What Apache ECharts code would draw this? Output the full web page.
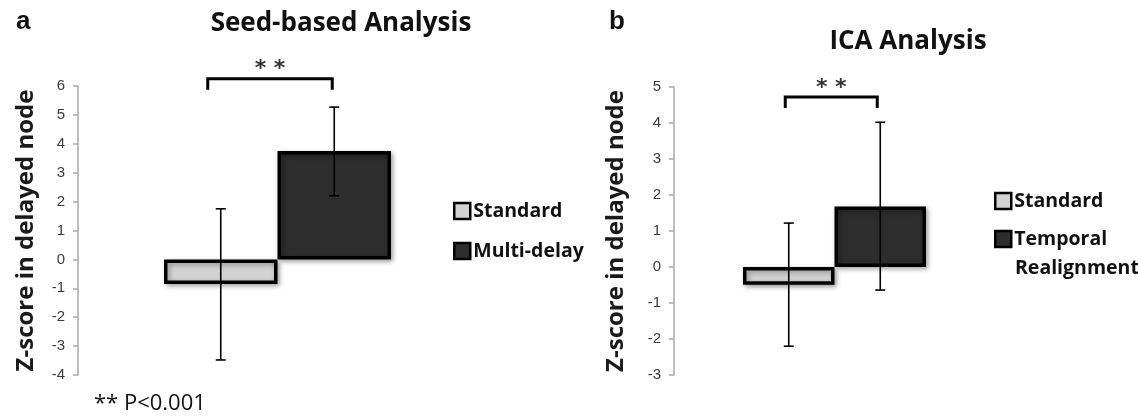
<!DOCTYPE html>
<html>
<head>
<meta charset="utf-8">
<script src="https://cdn.jsdelivr.net/npm/echarts@6/dist/echarts.min.js"></script>
<style>
html,body{margin:0;padding:0;background:#fff;}
#chart{width:1138px;height:416px;}
</style>
</head>
<body>
<div id="chart"></div>
<script>
// ---------- Data ----------
const categoriesA = ['Standard', 'Multi-delay'];
const meansA = [-0.85, 3.75];
const errLowA = [-3.48, 2.2];
const errHighA = [1.75, 5.27];
const yMinA = -4, yMaxA = 6;
const sigLevelA = 6.25;

const categoriesB = ['Standard', 'Temporal Realignment'];
const meansB = [-0.49, 1.68];
const errLowB = [-2.2, -0.64];
const errHighB = [1.22, 4.02];
const yMinB = -3, yMaxB = 5;
const sigLevelB = 4.72;

const sigLabel = '**';
const yAxisName = 'Z-score in delayed node';
const titleA = 'Seed-based Analysis';
const titleB = 'ICA Analysis';
const noteText = '** P<0.001';

// ---------- Styles ----------
const lightColor = '#d2d2d2';
const darkColor = '#2d2d2d';
const barStyle = (c) => ({
  color: c, borderColor: '#000', borderWidth: 3.5,
  shadowBlur: 5, shadowOffsetX: 2, shadowOffsetY: 2, shadowColor: 'rgba(0,0,0,0.35)'
});
const fontBold = '"Open Sans", Lato, sans-serif';

function barSeries(name, cats, means, idx, axis) {
  const data = cats.map((c, i) => i === idx ? means[i] : '-');
  return {
    type: 'bar', name: name, xAxisIndex: axis, yAxisIndex: axis,
    data: data, barGap: '-100%', barCategoryGap: '0%',
    itemStyle: barStyle(idx === 0 ? lightColor : darkColor),
    emphasis: { disabled: true }, z: 2
  };
}

function errorSeries(low, high, axis) {
  return {
    type: 'custom', xAxisIndex: axis, yAxisIndex: axis, z: 5, silent: true,
    data: low.map((l, i) => [i, l, high[i]]),
    renderItem: function (params, api) {
      const x = api.value(0);
      const p1 = api.coord([x, api.value(1)]);
      const p2 = api.coord([x, api.value(2)]);
      const cap = 5;
      const st = { stroke: '#000', lineWidth: 1.6 };
      return {
        type: 'group',
        children: [
          { type: 'line', shape: { x1: p1[0], y1: p1[1], x2: p2[0], y2: p2[1] }, style: st },
          { type: 'line', shape: { x1: p1[0] - cap, y1: p1[1], x2: p1[0] + cap, y2: p1[1] }, style: st },
          { type: 'line', shape: { x1: p2[0] - cap, y1: p2[1], x2: p2[0] + cap, y2: p2[1] }, style: st }
        ]
      };
    }
  };
}

function sigSeries(level, axis, leftShift, rightShift) {
  return {
    type: 'custom', xAxisIndex: axis, yAxisIndex: axis, z: 5, silent: true, clip: false,
    data: [[0, 1, level]],
    renderItem: function (params, api) {
      const a = api.coord([api.value(0), api.value(2)]);
      const b = api.coord([api.value(1), api.value(2)]);
      const drop = 11;
      const xl = a[0] - leftShift, xr = b[0] - rightShift;
      return {
        type: 'group',
        children: [
          { type: 'polyline', shape: { points: [[xl, a[1] + drop], [xl, a[1]], [xr, a[1]], [xr, a[1] + drop]] },
            style: { stroke: '#000', lineWidth: 3, fill: null } },
          { type: 'text', x: (xl + xr) / 2, y: a[1] - 9,
            style: { text: sigLabel.split('').join(' '), align: 'center', verticalAlign: 'middle',
              font: 'bold 22px "DejaVu Sans", sans-serif', fill: '#333' } }
        ]
      };
    }
  };
}

function yAxis(min, max, offset, nameGap) {
  return {
    type: 'value', min: min, max: max, interval: 1, offset: offset,
    name: yAxisName, nameLocation: 'middle', nameGap: nameGap, nameRotate: 90,
    nameTextStyle: { fontFamily: fontBold, fontWeight: 'bold', fontSize: 24, color: '#1a1a1a' },
    axisLine: { show: true, lineStyle: { color: '#a8a8a8', width: 1.5 } },
    axisTick: { show: true, length: 5, lineStyle: { color: '#a8a8a8', width: 1.5 } },
    axisLabel: { color: '#3a3a3a', fontSize: 15, fontFamily: '"Liberation Sans", Arial, sans-serif', margin: 13 },
    splitLine: { show: false }
  };
}

const chart = echarts.init(document.getElementById('chart'), null, { renderer: 'canvas' });
chart.setOption({
  animation: false,
  backgroundColor: '#fff',
  title: [
    { text: 'a', left: 11, top: 4, textStyle: { fontFamily: '"Liberation Sans", Arial', fontWeight: 'bold', fontSize: 26, color: '#111' } },
    { text: titleA, left: 336, top: 6, textAlign: 'center', textStyle: { fontFamily: fontBold, fontWeight: 'bold', fontSize: 26, color: '#111' } },
    { text: 'b', left: 604, top: 4, textStyle: { fontFamily: '"Liberation Sans", Arial', fontWeight: 'bold', fontSize: 26, color: '#111' } },
    { text: titleB, left: 903, top: 24, textAlign: 'center', textStyle: { fontFamily: fontBold, fontWeight: 'bold', fontSize: 26, color: '#111' } },
    { text: noteText, left: 89, top: 388, textStyle: { fontFamily: fontBold, fontWeight: 'normal', fontSize: 22, color: '#111' } },
    { text: 'Realignment', left: 1010, top: 253, textStyle: { fontFamily: fontBold, fontWeight: 'bold', fontSize: 19.5, color: '#111' } }
  ],
  legend: [
    { data: categoriesA, orient: 'vertical', left: 448, top: 196, itemGap: 20, itemWidth: 16, itemHeight: 16,
      icon: 'rect', selectedMode: false,
      itemStyle: { borderWidth: 2.5, borderColor: '#000', shadowBlur: 0 },
      textStyle: { fontFamily: fontBold, fontWeight: 'bold', fontSize: 19.5, color: '#111', padding: [0, 0, 0, -2] } },
    { data: categoriesB, orient: 'vertical', left: 989, top: 186, itemGap: 18, itemWidth: 16, itemHeight: 16,
      icon: 'rect', selectedMode: false,
      formatter: (n) => n === 'Temporal Realignment' ? 'Temporal' : n,
      itemStyle: { borderWidth: 2.5, borderColor: '#000', shadowBlur: 0 },
      textStyle: { fontFamily: fontBold, fontWeight: 'bold', fontSize: 19.5, color: '#111', padding: [0, 0, 0, -2] } }
  ],
  grid: [
    { left: 164, right: 747, top: 86, bottom: 41 },
    { left: 743, right: 212, top: 87, bottom: 41 }
  ],
  xAxis: [
    { type: 'category', gridIndex: 0, data: categoriesA, show: false },
    { type: 'category', gridIndex: 1, data: categoriesB, show: false }
  ],
  yAxis: [
    Object.assign(yAxis(yMinA, yMaxA, 86, 40), { gridIndex: 0 }),
    Object.assign(yAxis(yMinB, yMaxB, 69, 46), { gridIndex: 1 })
  ],
  series: [
    barSeries(categoriesA[0], categoriesA, meansA, 0, 0),
    barSeries(categoriesA[1], categoriesA, meansA, 1, 0),
    errorSeries(errLowA, errHighA, 0),
    sigSeries(sigLevelA, 0, 13, 2),
    barSeries(categoriesB[0], categoriesB, meansB, 0, 1),
    barSeries(categoriesB[1], categoriesB, meansB, 1, 1),
    errorSeries(errLowB, errHighB, 1),
    sigSeries(sigLevelB, 1, 3.5, 3)
  ]
});
</script>
</body>
</html>
